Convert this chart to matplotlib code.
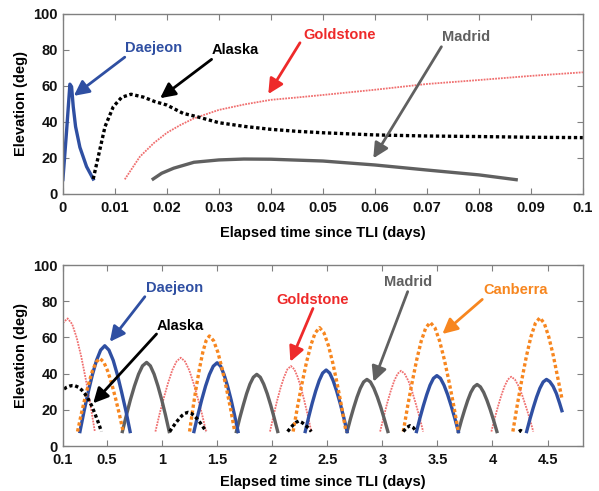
import numpy as np
import matplotlib
matplotlib.use("Agg")
import matplotlib.pyplot as plt

nan = np.nan

# ---------------- Top panel data (first 0.1 day) ----------------
top_daejeon_t = [0.0, 0.0007, 0.00135, 0.00167, 0.00199, 0.00244, 0.00327, 0.00455, 0.00583]
top_daejeon_el = [8.0, 34.6, 61.0, 59.6, 48.5, 37.4, 25.9, 15.2, 8.3]

top_alaska_t = [0.00583, 0.0068, 0.0081, 0.0097, 0.0113, 0.0131, 0.0155, 0.0177, 0.02, 0.0231,
                0.0257, 0.03, 0.035, 0.04, 0.045, 0.05, 0.06, 0.07, 0.08, 0.09, 0.1]
top_alaska_el = [8.3, 20.7, 37.4, 48.5, 53.7, 55.4, 53.8, 51.3, 49.4, 44.8,
                 43.0, 39.6, 37.5, 35.9, 34.8, 34.0, 32.8, 32.2, 31.9, 31.5, 31.3]

top_goldstone_t = [0.0119, 0.0148, 0.0175, 0.02, 0.0226, 0.0252, 0.03, 0.035, 0.04, 0.045,
                   0.05, 0.06, 0.07, 0.08, 0.09, 0.1]
top_goldstone_el = [8.1, 20.7, 28.3, 34.0, 38.3, 42.0, 46.7, 49.8, 52.3, 53.6,
                    55.0, 57.9, 61.1, 63.3, 65.6, 67.6]

top_madrid_t = [0.0171, 0.019, 0.0213, 0.0252, 0.03, 0.0348, 0.04, 0.045, 0.05, 0.06, 0.07, 0.08, 0.0875]
top_madrid_el = [7.8, 11.5, 14.3, 17.6, 18.9, 19.4, 19.3, 18.8, 18.3, 16.1, 13.3, 10.6, 7.8]

# ---------------- Bottom panel data (passes, NaN separated) ----------------
bot_goldstone_t = [0.10, 0.143, 0.184, 0.225, 0.267, 0.308, 0.349, 0.39, nan,
                   0.94, 0.978, 1.017, 1.055, 1.093, 1.132, 1.17, 1.208, 1.247, 1.285, 1.323, 1.362, 1.40, nan,
                   1.98, 2.012, 2.043, 2.075, 2.107, 2.138, 2.17, 2.201, 2.232, 2.263, 2.293, 2.324, 2.355, nan,
                   2.98, 3.012, 3.043, 3.075, 3.107, 3.138, 3.17, 3.203, 3.237, 3.27, 3.303, 3.337, 3.37, nan,
                   3.99, 4.02, 4.05, 4.08, 4.11, 4.14, 4.17, 4.203, 4.237, 4.27, 4.303, 4.337, 4.37]
bot_goldstone_el = [68.0, 70.5, 67.4, 59.9, 49.3, 36.8, 23.0, 8.0, nan,
                    8.0, 17.8, 26.8, 34.9, 41.9, 46.8, 48.8, 46.8, 41.9, 34.9, 26.8, 17.8, 8.0, nan,
                    8.0, 16.7, 24.7, 31.9, 38.0, 42.4, 44.2, 42.4, 38.0, 31.9, 24.7, 16.7, 8.0, nan,
                    8.0, 16.1, 23.5, 30.2, 35.9, 39.9, 41.6, 39.9, 35.9, 30.2, 23.5, 16.1, 8.0, nan,
                    8.0, 15.3, 21.9, 28.0, 33.1, 36.8, 38.3, 36.8, 33.1, 28.0, 21.9, 15.3, 8.0]

bot_madrid_t = [0.64, 0.677, 0.713, 0.75, 0.787, 0.823, 0.86, 0.894, 0.928, 0.9625, 0.997, 1.031, 1.065, nan,
                1.675, 1.706, 1.737, 1.7675, 1.798, 1.829, 1.86, 1.892, 1.923, 1.955, 1.987, 2.018, 2.05, nan,
                2.68, 2.71, 2.74, 2.77, 2.80, 2.83, 2.86, 2.892, 2.923, 2.955, 2.987, 3.018, 3.05, nan,
                3.69, 3.718, 3.747, 3.775, 3.803, 3.832, 3.86, 3.89, 3.92, 3.95, 3.98, 4.01, 4.04]
bot_madrid_el = [8.0, 17.2, 25.6, 33.2, 39.7, 44.3, 46.2, 44.3, 39.7, 33.2, 25.6, 17.2, 8.0, nan,
                 8.0, 15.6, 22.5, 28.9, 34.2, 38.0, 39.6, 38.0, 34.2, 28.9, 22.5, 15.6, 8.0, nan,
                 8.0, 14.9, 21.2, 27.0, 31.9, 35.4, 36.8, 35.4, 31.9, 27.0, 21.2, 14.9, 8.0, nan,
                 8.0, 14.2, 20.0, 25.2, 29.6, 32.7, 34.0, 32.7, 29.6, 25.2, 20.0, 14.2, 8.0]

bot_daejeon_t = [0.255, 0.2925, 0.33, 0.3675, 0.405, 0.4425, 0.48, 0.518, 0.557, 0.595, 0.633, 0.672, 0.71, nan,
                 1.29, 1.325, 1.36, 1.395, 1.43, 1.465, 1.50, 1.532, 1.563, 1.595, 1.627, 1.658, 1.69, nan,
                 2.30, 2.332, 2.363, 2.395, 2.427, 2.458, 2.49, 2.522, 2.553, 2.585, 2.617, 2.648, 2.68, nan,
                 3.31, 3.341, 3.372, 3.403, 3.433, 3.464, 3.495, 3.5275, 3.56, 3.5925, 3.625, 3.6575, 3.69, nan,
                 4.31, 4.34, 4.37, 4.40, 4.43, 4.46, 4.49, 4.52, 4.55, 4.58, 4.61, 4.63]
bot_daejeon_el = [8.0, 19.4, 29.8, 39.3, 47.3, 53.0, 55.4, 53.0, 47.3, 39.3, 29.8, 19.4, 8.0, nan,
                  8.0, 17.1, 25.5, 33.1, 39.5, 44.1, 46.0, 44.1, 39.5, 33.1, 25.5, 17.1, 8.0, nan,
                  8.0, 16.2, 23.6, 30.4, 36.2, 40.3, 42.0, 40.3, 36.2, 30.4, 23.6, 16.2, 8.0, nan,
                  8.0, 15.4, 22.2, 28.4, 33.6, 37.4, 38.9, 37.4, 33.6, 28.4, 22.2, 15.4, 8.0, nan,
                  8.0, 14.9, 21.2, 27.0, 31.9, 35.4, 36.8, 35.6, 33.0, 29.0, 23.5, 19.5]

bot_canberra_t = [0.233, 0.267, 0.301, 0.335, 0.368, 0.402, 0.436, 0.471, 0.506, 0.542, 0.577, 0.612, 0.647, nan,
                  1.25, 1.28, 1.31, 1.34, 1.37, 1.40, 1.43, 1.468, 1.507, 1.545, 1.583, 1.622, 1.66, nan,
                  2.19, 2.23, 2.27, 2.31, 2.35, 2.39, 2.43, 2.47, 2.51, 2.55, 2.59, 2.63, 2.67, nan,
                  3.19, 3.231, 3.272, 3.3125, 3.353, 3.394, 3.435, 3.4775, 3.52, 3.5625, 3.605, 3.6475, 3.69, nan,
                  4.185, 4.226, 4.267, 4.3075, 4.348, 4.389, 4.43, 4.47, 4.51, 4.55, 4.59, 4.63]
bot_canberra_el = [8.0, 17.7, 26.6, 34.7, 41.5, 46.4, 48.4, 46.4, 41.5, 34.7, 26.6, 17.7, 8.0, nan,
                   8.0, 20.7, 32.3, 42.8, 51.8, 58.2, 60.8, 58.2, 51.8, 42.8, 32.3, 20.7, 8.0, nan,
                   8.0, 21.8, 34.4, 45.9, 55.6, 62.5, 65.4, 62.5, 55.6, 45.9, 34.4, 21.8, 8.0, nan,
                   8.0, 22.5, 35.7, 47.8, 58.0, 65.3, 68.3, 65.3, 58.0, 47.8, 35.7, 22.5, 8.0, nan,
                   8.0, 23.1, 36.9, 49.5, 60.2, 67.8, 70.9, 67.8, 60.5, 50.5, 38.5, 26.3]

bot_alaska_t = [0.11, 0.135, 0.16, 0.185, 0.21, 0.24, 0.27, 0.30, 0.33, 0.36, 0.39, 0.42, 0.45, nan,
                1.07, 1.098, 1.126, 1.154, 1.181, 1.209, 1.237, 1.264, 1.291, 1.319, 1.346, 1.373, 1.40, nan,
                2.14, 2.165, 2.19, 2.215, 2.24, 2.27, 2.30, 2.33, 2.355, nan,
                3.19, 3.22, 3.25, 3.28, 3.31, nan,
                4.24, 4.255, 4.27]
bot_alaska_el = [31.5, 32.5, 33.1, 33.4, 33.3, 32.5, 31.0, 28.8, 26.0, 22.4, 18.0, 13.2, 8.0, nan,
                 8.0, 10.5, 12.9, 15.0, 16.8, 18.1, 18.6, 18.1, 16.8, 15.0, 12.9, 10.5, 8.0, nan,
                 8.0, 9.9, 11.6, 13.0, 13.8, 13.0, 11.6, 9.9, 8.0, nan,
                 8.0, 10.2, 11.2, 10.2, 8.0, nan,
                 8.0, 8.6, 8.0]

top_xticks = [0, 0.01, 0.02, 0.03, 0.04, 0.05, 0.06, 0.07, 0.08, 0.09, 0.1]
top_xticklabels = ["0", "0.01", "0.02", "0.03", "0.04", "0.05", "0.06", "0.07", "0.08", "0.09", "0.1"]
bot_xticks = [0.1, 0.5, 1, 1.5, 2, 2.5, 3, 3.5, 4, 4.5]
bot_xticklabels = ["0.1", "0.5", "1", "1.5", "2", "2.5", "3", "3.5", "4", "4.5"]
yticks = [0, 20, 40, 60, 80, 100]

# ---------------- Styling ----------------
plt.rcParams['font.family'] = ['Liberation Sans', 'DejaVu Sans']
plt.rcParams['font.weight'] = 'bold'
plt.rcParams['axes.labelweight'] = 'bold'

C_BLUE = '#2f4fa2'
C_BLACK = '#000000'
C_RED_TXT = '#ee2a2a'
C_RED_LINE = '#f07070'
C_GRAY = '#606060'
C_ORANGE = '#f7861f'
FS = 10.5

fig = plt.figure(figsize=(5.99, 4.91), dpi=100)
ax1 = fig.add_axes([0.105, 0.605, 0.868, 0.3665])
ax2 = fig.add_axes([0.105, 0.0916, 0.868, 0.3686])

def style(ax):
    for s in ax.spines.values():
        s.set_color('#808080')
        s.set_linewidth(1.0)
    ax.tick_params(direction='in', length=4, width=0.8, color='#808080',
                   top=True, right=True, labelsize=FS, labelcolor='#111111')
    ax.set_ylim(0, 100)
    ax.set_yticks(yticks)
    ax.set_ylabel('Elevation (deg)', fontsize=FS, fontweight='bold', labelpad=4)

dots = (0, (1.0, 0.8))
fine = (0, (1.0, 0.6))

# Top panel
ax1.plot(top_goldstone_t, top_goldstone_el, color=C_RED_LINE, lw=1.3, ls=fine)
ax1.plot(top_madrid_t, top_madrid_el, color=C_GRAY, lw=2.4, solid_capstyle='butt')
ax1.plot(top_daejeon_t, top_daejeon_el, color=C_BLUE, lw=2.4)
ax1.plot(top_alaska_t, top_alaska_el, color=C_BLACK, lw=2.4, ls=dots)
ax1.set_xlim(0, 0.1)
ax1.set_xticks(top_xticks)
ax1.set_xticklabels(top_xticklabels)
style(ax1)
ax1.tick_params(axis='x', pad=5)
ax1.set_xlabel('Elapsed time since TLI (days)', fontsize=FS, fontweight='bold', labelpad=8)

def arrow(ax, head, tail, color):
    ax.annotate('', xy=head, xytext=tail,
                arrowprops=dict(arrowstyle='-|>,head_length=0.9,head_width=0.45',
                                color=color, lw=2.0, shrinkA=0, shrinkB=0))

def label(ax, x, y, s, color):
    ax.text(x, y, s, color=color, fontsize=FS, fontweight='bold', ha='center', va='center')

label(ax1, 0.0175, 81.3, 'Daejeon', C_BLUE)
arrow(ax1, (0.0021, 54.5), (0.0119, 76), C_BLUE)
label(ax1, 0.0331, 80.0, 'Alaska', C_BLACK)
arrow(ax1, (0.0187, 53.2), (0.0286, 74.8), C_BLACK)
label(ax1, 0.0532, 88.3, 'Goldstone', C_RED_TXT)
arrow(ax1, (0.0395, 55.5), (0.0456, 84.0), C_RED_TXT)
label(ax1, 0.0776, 87.4, 'Madrid', C_GRAY)
arrow(ax1, (0.0597, 19.8), (0.0728, 81.8), C_GRAY)

# Bottom panel
ax2.plot(bot_goldstone_t, bot_goldstone_el, color=C_RED_LINE, lw=1.3, ls=fine)
ax2.plot(bot_madrid_t, bot_madrid_el, color=C_GRAY, lw=2.4)
ax2.plot(bot_daejeon_t, bot_daejeon_el, color=C_BLUE, lw=2.4)
ax2.plot(bot_canberra_t, bot_canberra_el, color=C_ORANGE, lw=2.4, ls=dots)
ax2.plot(bot_alaska_t, bot_alaska_el, color=C_BLACK, lw=2.4, ls=dots)
ax2.set_xlim(0.1, 4.82)
ax2.set_xticks(bot_xticks)
ax2.set_xticklabels(bot_xticklabels)
style(ax2)
ax2.tick_params(axis='x', pad=4.8)
ax2.set_xlabel('Elapsed time since TLI (days)', fontsize=FS, fontweight='bold', labelpad=6)

label(ax2, 1.113, 87.5, 'Daejeon', C_BLUE)
arrow(ax2, (0.526, 57.6), (0.844, 82.5), C_BLUE)
label(ax2, 1.167, 66.3, 'Alaska', C_BLACK)
arrow(ax2, (0.375, 23.6), (0.95, 61.9), C_BLACK)
label(ax2, 2.365, 80.7, 'Goldstone', C_RED_TXT)
arrow(ax2, (2.165, 46.6), (2.37, 76.0), C_RED_TXT)
label(ax2, 3.236, 90.8, 'Madrid', C_GRAY)
arrow(ax2, (2.92, 35.5), (3.23, 85.3), C_GRAY)
label(ax2, 4.207, 86.2, 'Canberra', C_ORANGE)
arrow(ax2, (3.545, 61.9), (3.907, 81.0), C_ORANGE)

fig.savefig('out.png', dpi=100)
